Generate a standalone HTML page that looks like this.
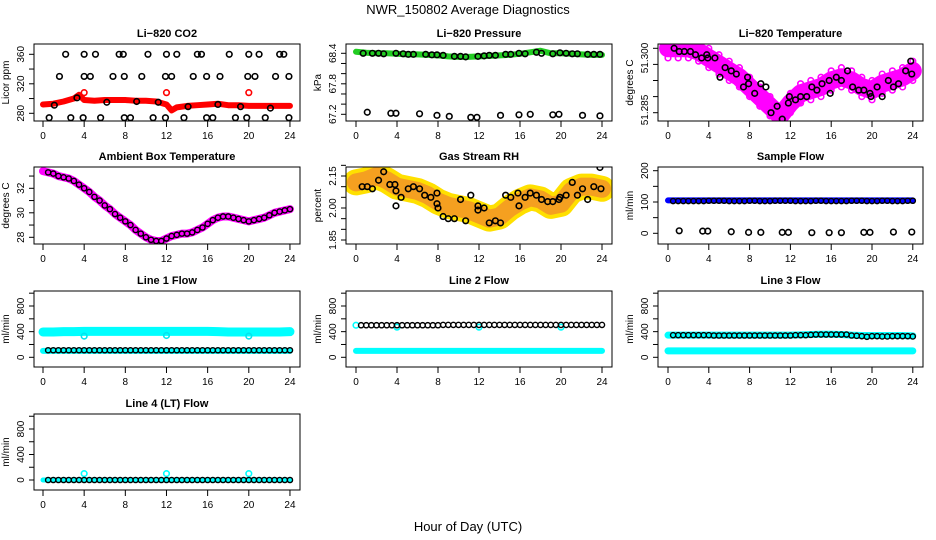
<!DOCTYPE html>
<html><head><meta charset="utf-8"><style>
body{margin:0;background:#fff}
svg{display:block;font-family:"Liberation Sans",Arial,sans-serif}
</style></head><body>
<svg id="chart" width="936" height="540" viewBox="0 0 936 540" xmlns="http://www.w3.org/2000/svg">
<text x="468" y="14" font-size="13" text-anchor="middle">NWR_150802  Average Diagnostics</text>
<text x="468" y="531" font-size="13" text-anchor="middle">Hour of Day (UTC)</text>
</svg>
<script>
const hourTicks=[0,4,8,12,16,20,24];
// CO2
const co2RedH=[0,1,2,3,3.5,4,5,6,7,8,9,10,11,12,12.5,13,14,15,16,17,18,19,20,21,22,23,24];
const co2RedV=[292,293,296,300,305,298,297,298,298,298,297,297,296,292,284,288,290,291,292,293,291,291,290,290,290,290,290];
const co2OutH=[4,12,20];
const co2OutV=[308,308,308];
const co2BlackH=[2.2,4,5.1,7.4,7.8,10.2,12,13,15,15.4,18.1,20,21,23,23.4,1.6,4,4.6,6.8,7.9,9.6,11.9,12.5,14.6,15.9,17.2,19.9,20.6,22.6,23.9,0.6,2.7,3.9,5.6,7.9,8.5,10.7,11.9,13.7,15.9,16.5,18.7,19.8,21.6,23.9,1.1,3.3,6.2,9.1,11.2,14.1,17,19.2,22.1];
const co2BlackV=[360,360,360,360,360,360,360,360,360,360,360,360,360,360,360,330,330,330,330,330,330,330,330,330,330,330,330,330,330,330,274,274,274,274,274,274,274,274,274,274,274,274,274,274,274,291,301,295,296,295,289,292,289,287];
// Pressure
const presGreenV=[68.43,68.41,68.40,68.40,68.39,68.38,68.38,68.37,68.36,68.34,68.33,68.33,68.34,68.35,68.36,68.37,68.39,68.42,68.45,68.40,68.40,68.39,68.38,68.37,68.37];
const presBlackH=[0.7,1.6,2.2,2.7,3.9,4.6,5.1,5.6,6.8,7.4,7.9,8.5,9.6,10.2,10.7,11.9,12.5,13,13.6,14.6,15.1,15.9,16.5,17.6,18.1,19.2,19.9,20.5,21.1,21.6,22.6,23.2,23.8,1.1,3.4,3.9,6.2,7.9,9.1,11.2,11.8,14.1,15.9,17,19.2,19.8,22.1,23.8];
const presBlackV=[68.40,68.40,68.40,68.39,68.40,68.39,68.38,68.38,68.38,68.37,68.37,68.36,68.34,68.34,68.33,68.34,68.35,68.36,68.36,68.38,68.38,68.40,68.39,68.42,68.40,68.39,68.41,68.40,68.39,68.39,68.38,68.38,68.38,67.24,67.22,67.22,67.21,67.18,67.16,67.14,67.14,67.18,67.19,67.20,67.19,67.20,67.18,67.17];
// Li-820 temperature
const tMagV=[51.305,51.305,51.305,51.304,51.302,51.300,51.298,51.296,51.293,51.290,51.287,51.284,51.288,51.291,51.292,51.293,51.295,51.296,51.295,51.293,51.292,51.294,51.295,51.296,51.298];
const tBlackH=[0.6,1.1,1.6,2.2,2.7,3.3,3.8,3.9,4.6,5.1,5.6,6.2,6.7,7.4,7.8,7.9,8.5,9.1,9.6,10.1,10.7,11.2,11.8,11.9,12.5,13,13.6,14.1,14.6,15.1,15.8,15.9,16.5,17,17.6,18.1,18.7,19.2,19.8,19.9,20.5,21,21.6,22.1,22.6,23.3,23.8,23.9];
const tBlackV=[51.305,51.304,51.304,51.304,51.303,51.302,51.303,51.302,51.302,51.296,51.299,51.298,51.297,51.293,51.296,51.294,51.291,51.294,51.293,51.285,51.287,51.283,51.288,51.290,51.289,51.290,51.290,51.293,51.292,51.294,51.295,51.291,51.296,51.295,51.298,51.293,51.292,51.292,51.291,51.290,51.293,51.290,51.295,51.293,51.294,51.298,51.301,51.297];
// Ambient box temperature (half-hourly)
const ambV=[33.4,33.3,33.2,33.0,32.9,32.8,32.6,32.3,32.0,31.7,31.3,31.0,30.6,30.3,29.9,29.6,29.3,29.0,28.6,28.3,28.0,27.8,27.7,27.7,27.9,28.1,28.2,28.3,28.3,28.4,28.6,28.8,29.1,29.4,29.6,29.7,29.7,29.6,29.5,29.4,29.3,29.4,29.5,29.6,29.8,30.0,30.1,30.2,30.3];
// Gas stream RH
const rhOrangeV=[2.12,2.13,2.15,2.13,2.10,2.09,2.08,2.06,2.03,2.01,2.00,1.99,1.97,1.95,1.96,2.00,2.03,2.05,2.04,2.01,2.02,2.08,2.10,2.10,2.09];
const rhBlackH=[0.6,1.1,1.6,2.2,2.7,3.3,3.8,3.9,3.9,4.4,5.1,5.6,6.2,6.7,7.3,7.9,7.9,8.0,8.5,9.0,9.6,10.2,10.7,11.2,11.9,11.9,12.5,13,13.6,14.1,14.6,15.1,15.8,15.9,16.5,17,17.6,18.1,18.7,19.2,19.8,19.9,20.5,21.1,21.6,22.1,22.6,23.2,23.8,23.9];
const rhBlackV=[2.10,2.10,2.09,2.13,2.17,2.11,2.11,2.08,2.01,2.05,2.09,2.10,2.09,2.06,2.05,2.07,2.02,2.00,1.96,1.95,1.95,2.04,1.94,2.06,2.01,1.99,2.00,1.93,1.94,1.93,2.06,2.05,2.07,2.01,2.05,2.07,2.06,2.04,2.03,2.03,2.04,2.05,2.06,2.12,2.06,2.09,2.04,2.10,2.19,2.09];
// Sample flow
const sfBlueV=[105,105,105,105,105,105,105,105,105,105,105,105,105,105,105,105,105,105,105,105,105,105,105,105,105];
const sfLowH=[1.1,3.4,3.9,6.2,7.9,9.1,11.2,11.8,14.1,15.8,17,19.2,19.8,22.1,23.9];
const sfLowV=[8,7,7,5,3,3,3,3,2,2,2,3,3,4,4];
const sfBlackV=[103,103,103,103,103,103,103,104,104,104,104,103,103,103,103,104,104,103,103,103,104,104,104,104,103,103,103,103,104,104,103,103,103,103,103,104,104,104,103,103,103,104,104,103,103,103,104,104];
// Line flows (half-hourly, 0.5..24)
const l1BlackV=[110,110,110,110,110,110,110,110,110,110,110,110,110,110,110,110,110,110,110,110,110,110,110,110,110,110,110,110,110,110,110,110,110,110,110,110,110,110,110,110,110,110,110,110,110,110,110,110];
const l1CyanHighV=[395,395,400,400,405,405,405,405,405,405,405,405,405,405,405,405,405,400,395,395,395,395,395,395,400];
const l1CyanLowV=[100,100,100,100,100,100,100,100,100,100,100,100,100,100,100,100,100,100,100,100,100,100,100,100,100];
const l1OutH=[4,12,20];
const l1OutV=[330,340,330];
const l2BlackV=[500,500,500,500,500,500,500,500,500,500,500,500,500,500,500,500,505,505,505,505,505,505,505,505,505,505,505,505,505,505,505,505,505,505,505,505,505,505,505,505,505,505,505,505,505,505,505,505];
const l2CyanLowV=[100,100,100,100,100,100,100,100,100,100,100,100,100,100,100,100,100,100,100,100,100,100,100,100,100];
const l3BlackV=[345,345,345,345,345,345,345,345,340,340,340,340,340,340,340,340,340,340,340,340,340,340,340,340,345,345,345,350,355,355,355,355,355,355,355,340,335,330,320,330,330,325,325,330,330,330,330,325];
const l3CyanHighV=[345,345,345,345,345,345,345,345,345,345,345,345,345,350,355,360,360,355,345,340,340,340,340,340,335];
const l3CyanLowV=[100,100,100,100,100,100,100,100,100,100,100,100,100,100,100,100,100,100,100,100,100,100,100,100,100];
const l4BlackV=[0,0,0,0,0,0,0,0,0,0,0,0,0,0,0,0,0,0,0,0,0,0,0,0,0,0,0,0,0,0,0,0,0,0,0,0,0,0,0,0,0,0,0,0,0,0,0,0];
const l4OutH=[4,12,20];
const l4OutV=[100,100,100];

const NS="http://www.w3.org/2000/svg";
const svg=document.getElementById('chart');
function mk(tag,attrs,parent){const e=document.createElementNS(NS,tag);for(const k in attrs)e.setAttribute(k,attrs[k]);(parent||svg).appendChild(e);return e;}
const cols=[{left:34,right:300,x0:43,k:10.29},{left:346,right:612,x0:356,k:10.25},{left:658,right:923,x0:668,k:10.2}];
const rows=[{top:44,bottom:121},{top:167,bottom:244},{top:291,bottom:367},{top:414,bottom:490}];

function panel(name,c,r,title,ylab,v1,p1,v2,p2,yticks,ylabels){
  const col=cols[c],row=rows[r];
  const g=mk('g',{});
  
  
  const P={g,col,row,
    x:h=>col.x0+h*col.k,
    y:v=>p1+(v-v1)*(p2-p1)/(v2-v1)};
  const clip=mk('clipPath',{id:'clip-'+name},g);
  mk('rect',{x:col.left,y:row.top,width:col.right-col.left,height:row.bottom-row.top},clip);
  P.plot=mk('g',{'clip-path':'url(#clip-'+name+')'},g);
  
  
  const box=mk('rect',{x:col.left,y:row.top,width:col.right-col.left,height:row.bottom-row.top,fill:'none',stroke:'#000','stroke-width':1},g);
  
  
  const t=mk('text',{x:(col.left+col.right)/2,y:row.top-7,'font-size':11,'font-weight':'bold','text-anchor':'middle'},g);
  t.textContent=title;
  
  
  hourTicks.forEach(h=>{
    const X=P.x(h);
    mk('line',{x1:X,x2:X,y1:row.bottom,y2:row.bottom+6,stroke:'#000'},g);
    const tl=mk('text',{x:X,y:row.bottom+18,'font-size':10,'text-anchor':'middle'},g);
    tl.textContent=h;
    
    
  });
  yticks.forEach(v=>{const Y=P.y(v);if(Y<row.top-10||Y>row.bottom+1)return;mk('line',{x1:col.left,x2:col.left-5,y1:Y,y2:Y,stroke:'#000'},g);});
  ylabels.forEach(l=>{
    const Y=l.px!==undefined?l.px:P.y(l.v);
    const tl=mk('text',{x:col.left-10,y:Y,'font-size':10,'text-anchor':'middle',transform:`rotate(-90 ${col.left-10} ${Y})`},g);
    tl.textContent=l.t;
    
    
  });
  const yl=mk('text',{x:col.left-25,y:(row.top+row.bottom)/2,'font-size':10,'text-anchor':'middle',transform:`rotate(-90 ${col.left-25} ${(row.top+row.bottom)/2})`},g);
  yl.textContent=ylab;
  
  
  return P;
}
function band(P,hs,vs,color,w,name){
  const pts=hs.map((h,i)=>P.x(h)+','+P.y(vs[i])).join(' ');
  const e=mk('polyline',{points:pts,fill:'none',stroke:color,'stroke-width':w,'stroke-linejoin':'round','stroke-linecap':'round'},P.plot);
  
  
}
function pts(P,hs,vs,color,name,r,sw){
  hs.forEach((h,i)=>{
    const e=mk('circle',{cx:P.x(h),cy:P.y(vs[i]),r:r||2.8,fill:'none',stroke:color,'stroke-width':sw||1.6},P.plot);
    
    
  });
}
const H25=l=>l.map((_,i)=>i);
const HH=l=>l.map((_,i)=>(i+1)*0.5);
const HH0=l=>l.map((_,i)=>i*0.5);

// CO2
let P=panel('co2-panel',0,0,'Li\u2212820 CO2','Licor ppm',280,113.3,360,54.3,[280,300,320,340,360],[{v:280,t:'280'},{v:320,t:'320'},{v:360,t:'360'}]);
band(P,co2RedH,co2RedV,'#f00',6,'co2-red-band');
pts(P,co2OutH,co2OutV,'#f00','co2-red-point');
pts(P,co2BlackH,co2BlackV,'#000','co2-black-point');
// Pressure
P=panel('pressure-panel',1,0,'Li\u2212820 Pressure','kPa',68.4,53.3,67.2,114.3,[67.2,67.4,67.6,67.8,68.0,68.2,68.4],[{v:67.2,t:'67.2'},{v:67.8,t:'67.8'},{v:68.4,t:'68.4'}]);
band(P,H25(presGreenV),presGreenV,'#22cc22',6,'pressure-green-band');
pts(P,presBlackH,presBlackV,'#000','pressure-black-point');
// Li-820 temperature
P=panel('li820-temp-panel',2,0,'Li\u2212820 Temperature','degrees C',51.305,48.3,51.285,112.7,[51.285,51.290,51.295,51.300,51.305],[{px:110,t:'51.285'},{px:58,t:'51.300'}]);
band(P,H25(tMagV),tMagV,'#ff00ff',18,'temp-magenta-band');
pts(P,H25(tMagV),tMagV.map(v=>v+0.003),'#ff00ff','temp-magenta-point');
pts(P,H25(tMagV),tMagV.map(v=>v-0.003),'#ff00ff','temp-magenta-point');
pts(P,tBlackH,tBlackV,'#000','temp-black-point');
// Ambient
P=panel('ambient-temp-panel',0,1,'Ambient Box Temperature','degrees C',32,188.3,28,237.3,[28,29,30,31,32,33],[{v:28,t:'28'},{v:30,t:'30'},{v:32,t:'32'}]);
band(P,HH0(ambV),ambV,'#ff00ff',8,'ambient-magenta-band');
pts(P,HH0(ambV).slice(1),ambV.slice(1),'#000','ambient-black-point',2.6,1.4);
// RH
P=panel('gas-rh-panel',1,1,'Gas Stream RH','percent',1.85,240,2.15,176,[1.85,1.90,1.95,2.00,2.05,2.10,2.15,2.20],[{v:1.85,t:'1.85'},{v:2.00,t:'2.00'},{v:2.15,t:'2.15'}]);
band(P,H25(rhOrangeV),rhOrangeV,'#ffe000',26,'rh-yellow-band');
band(P,H25(rhOrangeV),rhOrangeV,'#f5a020',18,'rh-orange-band');
pts(P,rhBlackH,rhBlackV,'#000','rh-black-point');
// Sample flow
P=panel('sample-flow-panel',2,1,'Sample Flow','ml/min',0,233.3,200,170.7,[0,50,100,150,200],[{v:0,t:'0'},{v:100,t:'100'},{v:200,t:'200'}]);
band(P,H25(sfBlueV),sfBlueV,'#0000ff',6,'sample-blue-band');
pts(P,HH(sfBlackV),sfBlackV,'#000','sample-black-point',2.6,1.4);
pts(P,sfLowH,sfLowV,'#000','sample-low-point');
// flows
const fT=[0,200,400,600,800,1000],fL=[{v:0,t:'0'},{v:400,t:'400'},{v:800,t:'800'}];
P=panel('line1-flow-panel',0,2,'Line 1 Flow','ml/min',0,357.3,800,306,fT,fL);
band(P,H25(l1CyanHighV),l1CyanHighV,'#00ffff',9,'line1-cyan-high-band');
band(P,H25(l1CyanLowV),l1CyanLowV,'#00ffff',6,'line1-cyan-low-band');
pts(P,l1OutH,l1OutV,'#00e5ee','line1-cyan-outlier');
pts(P,HH(l1BlackV),l1BlackV,'#000','line1-black-point',2.6,1.4);
P=panel('line2-flow-panel',1,2,'Line 2 Flow','ml/min',0,357.3,800,306,fT,fL);
band(P,H25(l2CyanLowV),l2CyanLowV,'#00ffff',6,'line2-cyan-low-band');
pts(P,[0,4,12,20],[500,470,470,470],'#00ffff','line2-cyan-point');
pts(P,HH(l2BlackV),l2BlackV,'#000','line2-black-point',2.6,1.4);
P=panel('line3-flow-panel',2,2,'Line 3 Flow','ml/min',0,357.3,800,306,fT,fL);
band(P,H25(l3CyanHighV),l3CyanHighV,'#00ffff',7,'line3-cyan-high-band');
band(P,H25(l3CyanLowV),l3CyanLowV,'#00ffff',7,'line3-cyan-low-band');
pts(P,HH(l3BlackV),l3BlackV,'#000','line3-black-point',2.6,1.4);
P=panel('line4-flow-panel',0,3,'Line 4 (LT) Flow','ml/min',0,480,800,429,fT,fL);
band(P,[0,24],[0,0],'#00ffff',5,'line4-cyan-band');
pts(P,l4OutH,l4OutV,'#00ffff','line4-cyan-outlier');
pts(P,HH(l4BlackV),l4BlackV,'#000','line4-black-point',2.6,1.4);
</script>
</body></html>
